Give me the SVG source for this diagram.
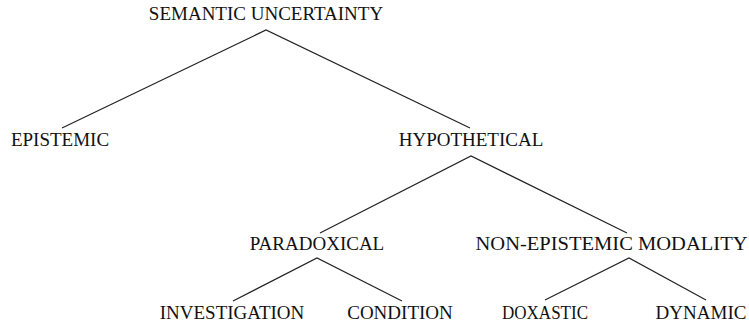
<svg xmlns="http://www.w3.org/2000/svg" width="749" height="322" viewBox="0 0 749 322">
<style>
text{font-family:"Liberation Serif","Times New Roman",serif;font-size:19px;fill:#111;text-anchor:middle}
.e{stroke:#222;stroke-width:1.2;fill:none}
</style>
<rect width="749" height="322" fill="#fff"/>
<g id="connectors">
<path class="e" d="M62,128 L266,30 L470,128"/>
<path class="e" d="M320,233 L471,156 L627,233"/>
<path class="e" d="M233,301 L317,258 L402,301"/>
<path class="e" d="M545,300 L629,258 L706,300"/>
</g>
<g id="n-semantic"><text x="266" y="20">SEMANTIC UNCERTAINTY</text></g>
<g id="n-epistemic"><text x="60" y="146">EPISTEMIC</text></g>
<g id="n-hypothetical"><text x="471" y="146">HYPOTHETICAL</text></g>
<g id="n-paradoxical"><text x="317" y="250">PARADOXICAL</text></g>
<g id="n-nonepistemic"><text x="611.5" y="250" textLength="272" lengthAdjust="spacingAndGlyphs">NON-EPISTEMIC MODALITY</text></g>
<g id="n-investigation"><text x="232" y="319">INVESTIGATION</text></g>
<g id="n-condition"><text x="400" y="319">CONDITION</text></g>
<g id="n-doxastic"><text x="545" y="319" textLength="86" lengthAdjust="spacingAndGlyphs">DOXASTIC</text></g>
<g id="n-dynamic"><text x="701" y="319">DYNAMIC</text></g>
</svg>
